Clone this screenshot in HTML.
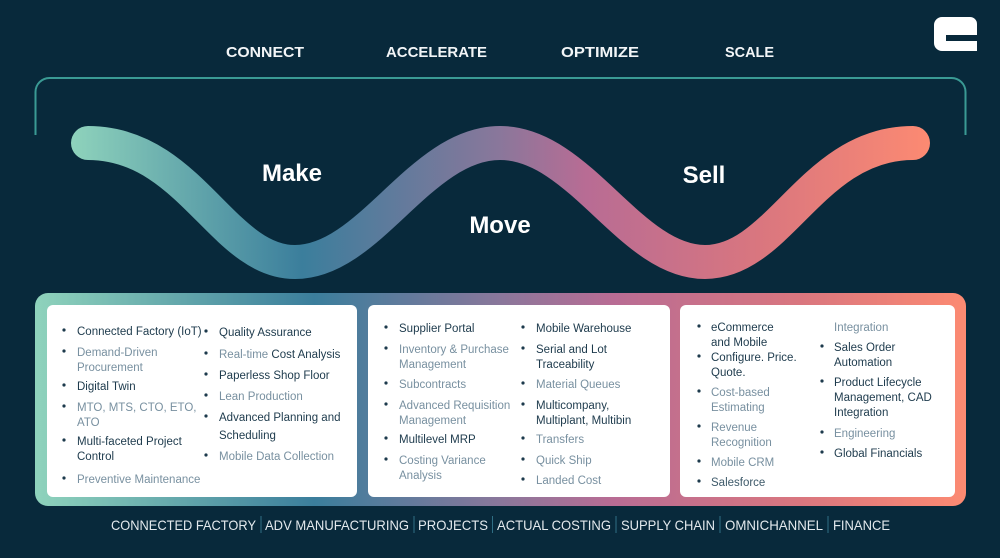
<!DOCTYPE html>
<html><head><meta charset="utf-8"><style>
html,body{margin:0;padding:0;background:#08293b;width:1000px;height:558px;overflow:hidden}
svg{display:block}
.h{font-family:"Liberation Sans",sans-serif;font-size:15px;font-weight:bold;fill:#f2f5f7}
.w{font-family:"Liberation Sans",sans-serif;font-size:24px;font-weight:bold;fill:#ffffff}
.d{font-family:"Liberation Sans",sans-serif;font-size:11.5px;fill:#1d3a4c}
.l{font-family:"Liberation Sans",sans-serif;font-size:11.5px;fill:#7890a0}
.b{fill:#1d3a4c}
</style></head><body>
<svg width="1000" height="558" viewBox="0 0 1000 558" xmlns="http://www.w3.org/2000/svg">
<defs>
<linearGradient id="g" x1="70" y1="0" x2="930" y2="0" gradientUnits="userSpaceOnUse">
<stop offset="0" stop-color="#8fd3bc"/>
<stop offset="0.27" stop-color="#3b7e9c"/>
<stop offset="0.5" stop-color="#8a779b"/>
<stop offset="0.6" stop-color="#b86c94"/>
<stop offset="0.8" stop-color="#d9767f"/>
<stop offset="1" stop-color="#fc8a72"/>
</linearGradient>
<linearGradient id="g2" x1="35" y1="0" x2="966" y2="0" gradientUnits="userSpaceOnUse">
<stop offset="0" stop-color="#8fd3bc"/>
<stop offset="0.3" stop-color="#3b7e9c"/>
<stop offset="0.5" stop-color="#8a779b"/>
<stop offset="0.62" stop-color="#b86c94"/>
<stop offset="0.82" stop-color="#d9767f"/>
<stop offset="1" stop-color="#fc8a72"/>
</linearGradient>
</defs>
<!-- logo -->
<path d="M942,17 H970 A7,7 0 0 1 977,24 V35 H946 V41 H977 V51 H942 A8,8 0 0 1 934,43 V25 A8,8 0 0 1 942,17 Z" fill="#ffffff"/>
<!-- headings -->
<text class="h" x="226" y="57" textLength="78" lengthAdjust="spacingAndGlyphs">CONNECT</text>
<text class="h" x="386" y="57" textLength="101" lengthAdjust="spacingAndGlyphs">ACCELERATE</text>
<text class="h" x="561" y="57" textLength="78" lengthAdjust="spacingAndGlyphs">OPTIMIZE</text>
<text class="h" x="725" y="57" textLength="49" lengthAdjust="spacingAndGlyphs">SCALE</text>
<!-- bracket -->
<path d="M35.5,135 V92 A14,14 0 0 1 49.5,78 H951.5 A14,14 0 0 1 965.5,92 V135" fill="none" stroke="#3a9a94" stroke-width="2"/>
<!-- wave -->
<path d="M88,143 C190,143 222,262 295,262 C370,262 420,143 500,143 C580,143 630,262 705,262 C780,262 812,143 913,143" fill="none" stroke="url(#g)" stroke-width="34" stroke-linecap="round"/>
<text class="w" x="292" y="181" text-anchor="middle">Make</text>
<text class="w" x="500" y="233" text-anchor="middle">Move</text>
<text class="w" x="704" y="183" text-anchor="middle">Sell</text>
<!-- box -->
<rect x="35" y="293" width="931" height="213" rx="13" fill="url(#g2)"/>
<rect x="47" y="305" width="310" height="192" rx="6" fill="#fff"/>
<rect x="368" y="305" width="302" height="192" rx="6" fill="#fff"/>
<rect x="680" y="305" width="275" height="192" rx="6" fill="#fff"/>
<!-- panel 1 -->
<g>
<circle class="b" cx="64" cy="330" r="1.6"/><text class="d" x="77" y="335">Connected Factory (IoT)</text>
<circle class="b" cx="64" cy="351" r="1.6"/><text class="l" x="77" y="356">Demand-Driven</text><text class="l" x="77" y="371">Procurement</text>
<circle class="b" cx="64" cy="385" r="1.6"/><text class="d" x="77" y="390">Digital Twin</text>
<circle class="b" cx="64" cy="406" r="1.6"/><text class="l" x="77" y="411">MTO, MTS, CTO, ETO,</text><text class="l" x="77" y="426">ATO</text>
<circle class="b" cx="64" cy="440" r="1.6"/><text class="d" x="77" y="445">Multi-faceted Project</text><text class="d" x="77" y="460">Control</text>
<circle class="b" cx="64" cy="478" r="1.6"/><text class="l" x="77" y="483">Preventive Maintenance</text>
<circle class="b" cx="206" cy="331" r="1.6"/><text class="d" x="219" y="336">Quality Assurance</text>
<circle class="b" cx="206" cy="353" r="1.6"/><text class="l" x="219" y="358">Real-time <tspan class="d">Cost Analysis</tspan></text>
<circle class="b" cx="206" cy="374" r="1.6"/><text class="d" x="219" y="379">Paperless Shop Floor</text>
<circle class="b" cx="206" cy="395" r="1.6"/><text class="l" x="219" y="400">Lean Production</text>
<circle class="b" cx="206" cy="416" r="1.6"/><text class="d" x="219" y="421">Advanced Planning and</text><text class="d" x="219" y="439">Scheduling</text>
<circle class="b" cx="206" cy="455" r="1.6"/><text class="l" x="219" y="460">Mobile Data Collection</text>
</g>
<!-- panel 2 -->
<g>
<circle class="b" cx="386" cy="327" r="1.6"/><text class="d" x="399" y="332">Supplier Portal</text>
<circle class="b" cx="386" cy="348" r="1.6"/><text class="l" x="399" y="353">Inventory &amp; Purchase</text><text class="l" x="399" y="368">Management</text>
<circle class="b" cx="386" cy="383" r="1.6"/><text class="l" x="399" y="388">Subcontracts</text>
<circle class="b" cx="386" cy="404" r="1.6"/><text class="l" x="399" y="409">Advanced Requisition</text><text class="l" x="399" y="424">Management</text>
<circle class="b" cx="386" cy="438" r="1.6"/><text class="d" x="399" y="443">Multilevel MRP</text>
<circle class="b" cx="386" cy="459" r="1.6"/><text class="l" x="399" y="464">Costing Variance</text><text class="l" x="399" y="479">Analysis</text>
<circle class="b" cx="523" cy="327" r="1.6"/><text class="d" x="536" y="332">Mobile Warehouse</text>
<circle class="b" cx="523" cy="348" r="1.6"/><text class="d" x="536" y="353">Serial and Lot</text><text class="d" x="536" y="368">Traceability</text>
<circle class="b" cx="523" cy="383" r="1.6"/><text class="l" x="536" y="388">Material Queues</text>
<circle class="b" cx="523" cy="404" r="1.6"/><text class="d" x="536" y="409">Multicompany,</text><text class="d" x="536" y="424">Multiplant, Multibin</text>
<circle class="b" cx="523" cy="438" r="1.6"/><text class="l" x="536" y="443">Transfers</text>
<circle class="b" cx="523" cy="459" r="1.6"/><text class="l" x="536" y="464">Quick Ship</text>
<circle class="b" cx="523" cy="479" r="1.6"/><text class="l" x="536" y="484">Landed Cost</text>
</g>
<!-- panel 3 -->
<g>
<circle class="b" cx="699" cy="326" r="1.6"/><text class="d" x="711" y="331">eCommerce</text><text class="d" x="711" y="346">and Mobile</text>
<circle class="b" cx="699" cy="356" r="1.6"/><text class="d" x="711" y="361">Configure. Price.</text><text class="d" x="711" y="376">Quote.</text>
<circle class="b" cx="699" cy="391" r="1.6"/><text class="l" x="711" y="396">Cost-based</text><text class="l" x="711" y="411">Estimating</text>
<circle class="b" cx="699" cy="426" r="1.6"/><text class="l" x="711" y="431">Revenue</text><text class="l" x="711" y="446">Recognition</text>
<circle class="b" cx="699" cy="461" r="1.6"/><text class="l" x="711" y="466">Mobile CRM</text>
<circle class="b" cx="699" cy="481" r="1.6"/><text class="d" x="711" y="486" style="fill:#3e5a6a">Salesforce</text>
<text class="l" x="834" y="331">Integration</text>
<circle class="b" cx="822" cy="346" r="1.6"/><text class="d" x="834" y="351">Sales Order</text><text class="d" x="834" y="366">Automation</text>
<circle class="b" cx="822" cy="381" r="1.6"/><text class="d" x="834" y="386">Product Lifecycle</text><text class="d" x="834" y="401">Management, CAD</text><text class="d" x="834" y="416">Integration</text>
<circle class="b" cx="822" cy="432" r="1.6"/><text class="l" x="834" y="437">Engineering</text>
<circle class="b" cx="822" cy="452" r="1.6"/><text class="d" x="834" y="457">Global Financials</text>
</g>
<!-- bottom line -->
<g font-family="Liberation Sans, sans-serif" font-size="14" fill="#e3e9ed">
<text x="111" y="530" textLength="145" lengthAdjust="spacingAndGlyphs">CONNECTED FACTORY</text>
<text x="265" y="530" textLength="144" lengthAdjust="spacingAndGlyphs">ADV MANUFACTURING</text>
<text x="418" y="530" textLength="70" lengthAdjust="spacingAndGlyphs">PROJECTS</text>
<text x="497" y="530" textLength="114" lengthAdjust="spacingAndGlyphs">ACTUAL COSTING</text>
<text x="621" y="530" textLength="94" lengthAdjust="spacingAndGlyphs">SUPPLY CHAIN</text>
<text x="725" y="530" textLength="98" lengthAdjust="spacingAndGlyphs">OMNICHANNEL</text>
<text x="833" y="530" textLength="57" lengthAdjust="spacingAndGlyphs">FINANCE</text>
</g>
<g stroke="#2f6e84" stroke-width="1">
<line x1="261" y1="516" x2="261" y2="533"/><line x1="414" y1="516" x2="414" y2="533"/>
<line x1="492.5" y1="516" x2="492.5" y2="533"/><line x1="616" y1="516" x2="616" y2="533"/>
<line x1="720" y1="516" x2="720" y2="533"/><line x1="828" y1="516" x2="828" y2="533"/>
</g>
</svg>
</body></html>
